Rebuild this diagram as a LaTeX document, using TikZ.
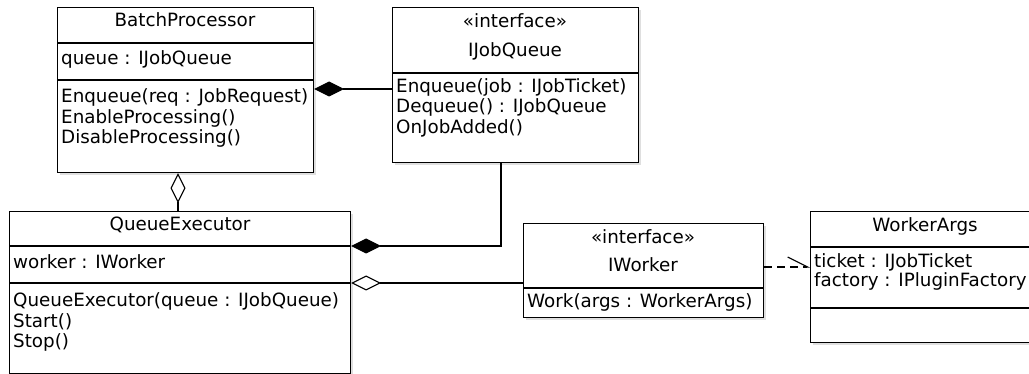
\documentclass[tikz,border=0pt]{standalone}
\usepackage{fontspec}
\setmainfont{DejaVu Sans}
\usetikzlibrary{arrows.meta,shadows}

\begin{document}
\begin{tikzpicture}[x=1pt,y=-1pt]
    \tikzset{
    box/.style={draw, fill=white, line width=1.1pt, anchor=north west, inner sep=0,
        drop shadow={shadow xshift=2pt, shadow yshift=-2pt, opacity=0.25}},
    txt/.style={anchor=west, inner sep=0, text height=13pt, text depth=4pt,
        font=\fontsize{18.3}{20}\selectfont},
    ttl/.style={txt, anchor=center},
    sep/.style={line width=1.1pt},
    c1/.style={-{Diamond[length=30pt,width=15pt]}, line width=1.1pt},
    c2/.style={-{Diamond[open,length=30pt,width=15pt]}, line width=1.1pt},
    c3/.style={-{Straight Barb[harpoon,length=20pt,width=20pt]}, line width=1.1pt, dash pattern=on 8pt off 5pt},
    }
    \useasboundingbox (0,0) rectangle (1029,374);

    % BatchProcessor
    \node[box, minimum width=256pt, minimum height=165pt] (bp) at (57,7) {};
    \draw[sep] (bp.west |- 0,43) -- (bp.east |- 0,43);
    \draw[sep] (bp.west |- 0,80) -- (bp.east |- 0,80);
    \node[ttl] (bp-t) at (185,22) {BatchProcessor};
    \node[txt] (bp-a) at (61,60) {queue : IJobQueue};
    \node[txt] (bp-m1) at (61,98) {Enqueue(req : JobRequest)};
    \node[txt] (bp-m2) at (61,119) {EnableProcessing()};
    \node[txt] (bp-m3) at (61,139.5) {DisableProcessing()};

    % IJobQueue
    \node[box, minimum width=246pt, minimum height=155pt] (jq) at (392,7) {};
    \draw[sep] (jq.west |- 0,73) -- (jq.east |- 0,73);
    \node[ttl] (jq-s) at (515,23) {«interface»};
    \node[ttl] (jq-t) at (515,52) {IJobQueue};
    \node[txt] (jq-m1) at (396,88) {Enqueue(job : IJobTicket)};
    \node[txt] (jq-m2) at (396,108) {Dequeue() : IJobQueue};
    \node[txt] (jq-m3) at (396,129) {OnJobAdded()};

    % QueueExecutor
    \node[box, minimum width=341pt, minimum height=162pt] (qe) at (9,211) {};
    \draw[sep] (qe.west |- 0,246) -- (qe.east |- 0,246);
    \draw[sep] (qe.west |- 0,283) -- (qe.east |- 0,283);
    \node[ttl] (qe-t) at (180,226) {QueueExecutor};
    \node[txt] (qe-a) at (13,264) {worker : IWorker};
    \node[txt] (qe-m1) at (13,302) {QueueExecutor(queue : IJobQueue)};
    \node[txt] (qe-m2) at (13,322.5) {Start()};
    \node[txt] (qe-m3) at (13,343) {Stop()};

    % IWorker
    \node[box, minimum width=240pt, minimum height=94pt] (iw) at (523,223) {};
    \draw[sep] (iw.west |- 0,288) -- (iw.east |- 0,288);
    \node[ttl] (iw-s) at (643,239) {«interface»};
    \node[ttl] (iw-t) at (643,267) {IWorker};
    \node[txt] (iw-m1) at (527,303) {Work(args : WorkerArgs)};

    % WorkerArgs
    \node[box, minimum width=230pt, minimum height=131pt] (wa) at (810,211) {};
    \draw[sep] (wa.west |- 0,247) -- (wa.east |- 0,247);
    \draw[sep] (wa.west |- 0,308) -- (wa.east |- 0,308);
    \node[ttl] (wa-t) at (925,227) {WorkerArgs};
    \node[txt] (wa-a1) at (814,263) {ticket : IJobTicket};
    \node[txt] (wa-a2) at (814,282) {factory : IPluginFactory};

    \draw[c1] (jq.west |- 0,89) -- (bp.east |- 0,89);
    \draw[c2] (qe.north -| 178,0) -- (bp.south -| 178,0);
    \draw[c1] (jq.south -| 501,0) |- (qe.east |- 0,246);
    \draw[c2] (iw.west |- 0,283) -- (qe.east |- 0,283);
    \draw[c3] (iw.east |- 0,267) -- (wa.west |- 0,267);

\end{tikzpicture}
\end{document}
